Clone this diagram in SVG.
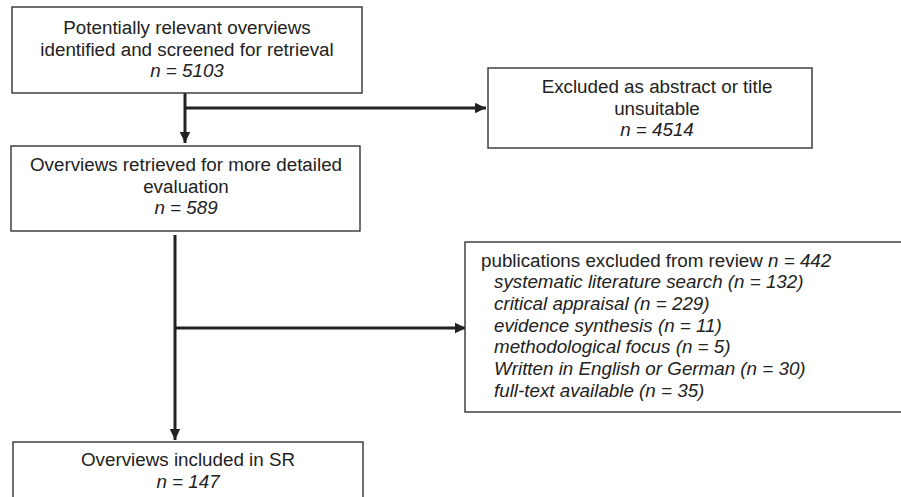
<svg xmlns="http://www.w3.org/2000/svg" width="901" height="497" viewBox="0 0 901 497">
<defs>
<style>
.box{fill:#fff;stroke:#333;stroke-width:1.4}
.t{font-family:"Liberation Sans",Arial,sans-serif;font-size:18.8px;fill:#222}
.c{text-anchor:middle}
.i{font-style:italic}
.ln{stroke:#222;stroke-width:3;fill:none}
</style>
<marker id="ah" markerUnits="userSpaceOnUse" markerWidth="12" markerHeight="12" viewBox="0 0 12 12" refX="11" refY="6" orient="auto">
<path d="M0,0.8 L11,6 L0,11.2 Z" fill="#222"/>
</marker>
</defs>
<g id="connectors">
<path class="ln" d="M185,93 V143" marker-end="url(#ah)"/>
<path class="ln" d="M185,108 H486" marker-end="url(#ah)"/>
<path class="ln" d="M175,235 V440" marker-end="url(#ah)"/>
<path class="ln" d="M175,328 H466" marker-end="url(#ah)"/>
</g>
<g id="n1">
<rect class="box" x="12" y="7" width="350" height="86"/>
<text class="t c" x="187" y="34">Potentially relevant overviews</text>
<text class="t c" x="187" y="56">identified and screened for retrieval</text>
<text class="t c i" x="187" y="77">n = 5103</text>
</g>
<g id="n2">
<rect class="box" x="488" y="68" width="324" height="80"/>
<text class="t c" x="657" y="93">Excluded as abstract or title</text>
<text class="t c" x="657" y="114.5">unsuitable</text>
<text class="t c i" x="657" y="136">n = 4514</text>
</g>
<g id="n3">
<rect class="box" x="11" y="146" width="349" height="85"/>
<text class="t c" x="186" y="171">Overviews retrieved for more detailed</text>
<text class="t c" x="186" y="192.5">evaluation</text>
<text class="t c i" x="186" y="214">n = 589</text>
</g>
<g id="n4">
<rect class="box" x="465" y="242" width="445" height="170"/>
<text class="t" x="481" y="266.5">publications excluded from review <tspan class="i">n = 442</tspan></text>
<text class="t i" x="494" y="288.2">systematic literature search (n = 132)</text>
<text class="t i" x="494" y="309.9">critical appraisal (n = 229)</text>
<text class="t i" x="494" y="331.6">evidence synthesis (n = 11)</text>
<text class="t i" x="494" y="353.3">methodological focus (n = 5)</text>
<text class="t i" x="494" y="375">Written in English or German (n = 30)</text>
<text class="t i" x="494" y="396.7">full-text available (n = 35)</text>
</g>
<g id="n5">
<rect class="box" x="13" y="442" width="350" height="70"/>
<text class="t c" x="188" y="466">Overviews included in SR</text>
<text class="t c i" x="188" y="488">n = 147</text>
</g>
</svg>
